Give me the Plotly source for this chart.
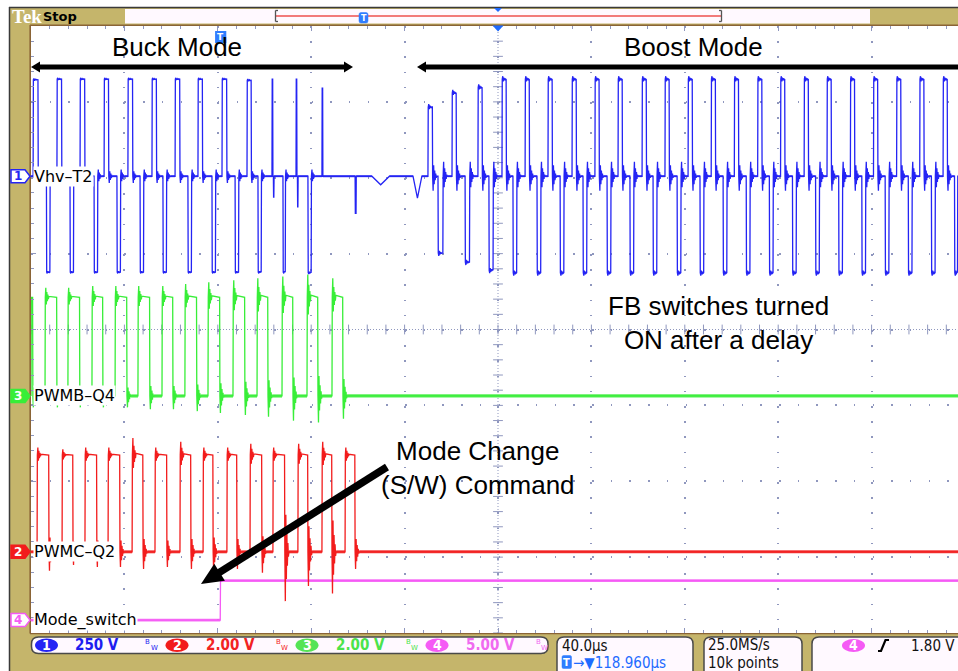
import plotly.graph_objects as go

# ===================== DATA =====================
# horizontal axis: time in µs, 0 = screen centre, 40 µs/div
T_MIN, T_MAX = -200.0, 197.0

# ---- Ch1  "Vhv-T2"  (250 V/div) : pulse start (µs), width (µs), level (V)
CH1_BUCK_POS_T = [-199.1, -188.9, -179.0, -168.7, -158.5, -148.2, -138.3, -128.5, -118.2, -107.5]
CH1_BUCK_POS_W = [2.2, 2.1, 2.1, 2.0, 2.1, 2.0, 2.1, 2.0, 2.1, 1.9]
CH1_BUCK_POS_V = [318, 320, 320, 320, 320, 320, 320, 320, 320, 316]
CH1_BUCK_NEG_T = [-193.4, -183.3, -173.0, -163.2, -153.3, -143.5, -132.8, -122.5, -112.6, -102.8, -92.1, -81.4]
CH1_BUCK_NEG_W = [1.6, 1.6, 1.6, 1.6, 1.6, 1.6, 1.6, 1.6, 1.6, 1.5, 1.1, 1.5]
CH1_BUCK_NEG_V = [-316, -316, -316, -316, -316, -316, -316, -316, -316, -316, -316, -318]
CH1_SPIKE_T = [-96.8, -96.2, -86.5, -85.9, -75.4, -61.2]
CH1_SPIKE_W = [0.4, 0.3, 0.4, 0.3, 0.4, 0.5]
CH1_SPIKE_V = [320, -69, 320, -101, 290, -122]
CH1_SAG_T = [-54.0, -36.4]
CH1_SAG_W = [7.5, 3.8]
CH1_SAG_V = [-28, -72]
CH1_BOOST_POS_T = [-30.0, -19.7, -8.6, 1.7, 11.6, 21.4, 31.7, 41.5, 51.4, 61.7, 71.5, 81.4,
                   91.3, 101.2, 111.2, 121.0, 131.1, 140.9, 150.9, 160.8, 170.7, 180.6, 190.6]
CH1_BOOST_POS_W = [2.0, 1.9, 1.9, 1.9, 1.9, 1.9, 1.9, 1.9, 1.9, 1.9, 1.9, 1.9,
                   1.9, 1.9, 1.9, 1.9, 1.9, 1.9, 1.9, 1.9, 1.9, 1.9, 1.9]
CH1_BOOST_POS_V = [228, 275, 293, 320, 320, 320, 320, 320, 320, 320, 320, 320,
                   320, 320, 320, 320, 320, 320, 320, 320, 320, 320, 320]
CH1_BOOST_NEG_T = [-25.7, -14.1, -3.9, 6.4, 16.7, 26.6, 36.4, 46.7, 56.5, 66.4, 76.7, 86.5,
                   96.4, 106.3, 116.2, 126.1, 136.0, 145.9, 155.8, 165.8, 175.7, 185.6, 195.5]
CH1_BOOST_NEG_W = [2.2, 2.0, 1.9, 1.7, 1.7, 1.7, 1.7, 1.7, 1.7, 1.7, 1.7, 1.7,
                   1.7, 1.7, 1.7, 1.7, 1.7, 1.7, 1.7, 1.7, 1.7, 1.7, 1.4]
CH1_BOOST_NEG_V = [-253, -283, -310, -318, -318, -318, -318, -318, -318, -318, -318, -318,
                   -318, -318, -318, -318, -318, -318, -318, -318, -318, -318, -318]
CH1_RING_BUCK, CH1_RING_BOOST = 22.0, 48.0          # V

# ---- Ch3  "PWMB-Q4"  (2 V/div)
CH3_T = [-200.0, -194.0, -184.2, -173.9, -164.0, -154.2, -143.9, -134.1, -124.2, -113.5, -103.2, -92.5, -81.8, -71.1]
CH3_W = [0.8, 5.1, 5.1, 4.7, 5.1, 5.1, 4.7, 5.1, 5.1, 5.1, 4.7, 4.7, 4.7, 4.7]
CH3_V = [2.6, 2.6, 2.6, 2.6, 2.6, 2.6, 2.6, 2.6, 2.6, 2.6, 2.6, 2.6, 2.6, 2.6]
CH3_RING_ON = [0.0, 0.25, 0.25, 0.3, 0.3, 0.3, 0.3, 0.35, 0.4, 0.45, 0.5, 0.55, 0.6, 0.5]
CH3_RING_OFF = [-0.3, -0.3, -0.3, -0.3, -0.3, -0.35, -0.35, -0.4, -0.45, -0.5, -0.55, -0.65, -0.7, -0.6]

# ---- Ch2  "PWMC-Q2"  (2 V/div)
CH2_T = [-197.4, -186.7, -176.9, -167.0, -156.7, -146.9, -136.2, -126.3, -116.1, -106.2, -96.4, -85.7, -75.4, -65.5]
CH2_W = [5.1, 4.7, 5.1, 5.1, 4.7, 5.1, 4.7, 4.3, 4.3, 5.1, 5.1, 4.3, 4.3, 4.3]
CH2_V = [2.55, 2.55, 2.55, 2.55, 2.55, 2.55, 2.55, 2.55, 2.55, 2.55, 2.55, 2.55, 2.55, 2.55]
CH2_RISE_SPIKE = [0.2, 0.15, 0.2, 0.2, 0.45, 0.2, 0.35, 0.2, 0.2, 0.3, 0.2, 0.3, 0.35, 0.2]
CH2_FALL_SPIKE = [-0.5, -0.35, -0.4, -0.4, -0.45, -0.4, -0.45, -0.5, -0.45, -0.55, -1.3, -0.9, -1.1, -0.45]

# ---- Ch4  "Mode_switch"  (5 V/div)
CH4_STEP_T = -118.96
CH4_LOW_V, CH4_HIGH_V = 0.0, 2.6

# scope settings
CH_SCALE = {1: 250.0, 2: 2.0, 3: 2.0, 4: 5.0}      # V/div
CH_NAMES = {1: "Vhv\u2013T2", 2: "PWMC\u2013Q2", 3: "PWMB\u2013Q4", 4: "Mode_switch"}
RING_SHAPE = [1.0, -0.75, 0.55, -0.4, 0.28, -0.18, 0.1]
RING_DT = 0.22
EDGE = 0.12

# ===================== LAYOUT GEOMETRY / STYLE =====================
W, H = 958, 671
ML, MT, MR, MB = 31, 26, 0, 38
PW, PH = W - ML - MR, H - MT - MB
CH_POS = {1: 2.02, 2: -2.93, 3: -0.876, 4: -3.83}  # ground positions (div)
COL = {1: "#2424F4", 2: "#F21C1C", 3: "#38EE38", 4: "#F55AF5"}
TXT_COL = {1: "#1E1EF0", 2: "#F22222", 3: "#4BE34B", 4: "#F06AF0"}
TAN = "#C5B56B"
GRID = "#8F97BE"
FONT_UI = "DejaVu Sans"
FONT_UIC = "DejaVu Sans Condensed"
FONT_ANN = "Liberation Sans"


def PX(x):
    return (x - ML) / PW


def PY(y):
    return (H - MB - y) / PH


def wave(pulses, t_lo, t_hi):
    xs, ys = [t_lo], [0.0]
    for t0, w, v, e, a_on, a_off in sorted(pulses):
        xs += [t0, t0 + e]
        ys += [0.0, v]
        if a_on:
            for k, r in enumerate(RING_SHAPE):
                tk = t0 + e + (k + 1) * RING_DT
                if tk >= t0 + w - e - RING_DT:
                    break
                xs.append(tk)
                ys.append(v + a_on * r)
        if w - e > e:
            xs.append(t0 + w - e)
            ys.append(v)
        xs.append(t0 + w)
        ys.append(0.0)
        if a_off:
            n = len(RING_SHAPE)
            for k, r in enumerate(RING_SHAPE):
                xs.append(t0 + w + (k + 1) * RING_DT)
                ys.append(a_off * r)
            xs.append(t0 + w + (n + 1) * RING_DT)
            ys.append(0.0)
    pts = [(x, y) for x, y in zip(xs, ys) if x <= t_hi]
    pts.append((t_hi, 0.0))
    return [p[0] for p in pts], [p[1] for p in pts]


def to_div(ch, volts):
    return [CH_POS[ch] + v / CH_SCALE[ch] for v in volts]


def flats(xs, ys, min_len=0.8):
    fx, fy = [], []
    for i in range(len(xs) - 1):
        if ys[i] == ys[i + 1] and xs[i + 1] - xs[i] > min_len:
            fx += [xs[i], xs[i + 1], None]
            fy += [ys[i], ys[i + 1], None]
    return fx, fy


# ---- build channel pulses from the data lists
p1 = []
for t, w, v in zip(CH1_BUCK_POS_T, CH1_BUCK_POS_W, CH1_BUCK_POS_V):
    p1.append((t, w, v, EDGE, 0.2 * CH1_RING_BUCK, -CH1_RING_BUCK))
for t, w, v in zip(CH1_BUCK_NEG_T, CH1_BUCK_NEG_W, CH1_BUCK_NEG_V):
    p1.append((t, w, v, EDGE, -0.2 * CH1_RING_BUCK, CH1_RING_BUCK))
for t, w, v in zip(CH1_SPIKE_T, CH1_SPIKE_W, CH1_SPIKE_V):
    p1.append((t, w, v, 0.1, 0, 0))
for t, w, v in zip(CH1_SAG_T, CH1_SAG_W, CH1_SAG_V):
    p1.append((t, w, v, w / 2.0, 0, 0))
for t, w, v in zip(CH1_BOOST_POS_T, CH1_BOOST_POS_W, CH1_BOOST_POS_V):
    p1.append((t, w, v, EDGE, 0.2 * CH1_RING_BOOST, -CH1_RING_BOOST))
for t, w, v in zip(CH1_BOOST_NEG_T, CH1_BOOST_NEG_W, CH1_BOOST_NEG_V):
    p1.append((t, w, v, EDGE, -0.2 * CH1_RING_BOOST, CH1_RING_BOOST))
x1, v1 = wave(p1, T_MIN, T_MAX)

p3 = [(t, w, v, EDGE, a, b) for t, w, v, a, b in zip(CH3_T, CH3_W, CH3_V, CH3_RING_ON, CH3_RING_OFF)]
x3, v3 = wave(p3, T_MIN, T_MAX)

p2 = [(t, w, v, EDGE, a, b) for t, w, v, a, b in zip(CH2_T, CH2_W, CH2_V, CH2_RISE_SPIKE, CH2_FALL_SPIKE)]
x2, v2 = wave(p2, T_MIN, T_MAX)

x4 = [T_MIN, CH4_STEP_T, CH4_STEP_T + EDGE, T_MAX]
v4 = [CH4_LOW_V, CH4_LOW_V, CH4_HIGH_V, CH4_HIGH_V]

fig = go.Figure()

# graticule ticks on the centre lines
cx = [T_MIN + 8 * k for k in range(60) if T_MIN + 8 * k <= T_MAX]
cy = [-4 + 0.2 * k for k in range(41)]
fig.add_trace(go.Scatter(x=cx, y=[0] * len(cx), mode="markers", hoverinfo="skip",
                         marker=dict(symbol="line-ns", size=7, line=dict(width=1, color=GRID))))
fig.add_trace(go.Scatter(x=[0] * len(cy), y=cy, mode="markers", hoverinfo="skip",
                         marker=dict(symbol="line-ew", size=7, line=dict(width=1, color=GRID))))

for ch, xs, vs, fuzz in [(4, x4, v4, 2.6), (3, x3, v3, 3.2), (2, x2, v2, 3.0), (1, x1, v1, 1.9)]:
    yd = to_div(ch, vs)
    fig.add_trace(go.Scatter(x=xs, y=yd, mode="lines", hoverinfo="skip",
                             line=dict(color=COL[ch], width=1.3, simplify=False)))
    if fuzz:
        fx, fy = flats(xs, yd)
        fig.add_trace(go.Scatter(x=fx, y=fy, mode="lines", hoverinfo="skip", opacity=0.85,
                                 line=dict(color=COL[ch], width=fuzz, simplify=False)))

shapes = []
annotations = []


def rect_px(x0, y0, x1, y1, fill, lc=None, lw=0):
    shapes.append(dict(type="rect", xref="paper", yref="paper", x0=PX(x0), x1=PX(x1),
                       y0=PY(y0), y1=PY(y1), fillcolor=fill,
                       line=dict(width=lw, color=lc or fill), layer="above"))


def line_px(x0, y0, x1, y1, color, width, dash="solid"):
    shapes.append(dict(type="line", xref="paper", yref="paper", x0=PX(x0), x1=PX(x1),
                       y0=PY(y0), y1=PY(y1), line=dict(color=color, width=width, dash=dash),
                       layer="above"))


def poly_px(pts, fill, lc=None, lw=0):
    p = "M " + " L ".join("%.5f,%.5f" % (PX(x), PY(y)) for x, y in pts) + " Z"
    shapes.append(dict(type="path", xref="paper", yref="paper", path=p, fillcolor=fill,
                       line=dict(color=lc or fill, width=lw), layer="above"))


def rrect_px(x0, y0, x1, y1, r, fill, lc, lw):
    def P(x, y):
        return "%.5f,%.5f" % (PX(x), PY(y))
    p = ("M " + P(x0 + r, y0) + " L " + P(x1 - r, y0) + " Q " + P(x1, y0) + " " + P(x1, y0 + r) +
         " L " + P(x1, y1 - r) + " Q " + P(x1, y1) + " " + P(x1 - r, y1) +
         " L " + P(x0 + r, y1) + " Q " + P(x0, y1) + " " + P(x0, y1 - r) +
         " L " + P(x0, y0 + r) + " Q " + P(x0, y0) + " " + P(x0 + r, y0) + " Z")
    shapes.append(dict(type="path", xref="paper", yref="paper", path=p, fillcolor=fill,
                       line=dict(color=lc, width=lw), layer="above"))


def oval_px(x0, y0, x1, y1, fill):
    shapes.append(dict(type="circle", xref="paper", yref="paper", x0=PX(x0), x1=PX(x1),
                       y0=PY(y0), y1=PY(y1), fillcolor=fill, line=dict(width=0), layer="above"))


def txt(px, py, s, size, color, anchor="left", family=FONT_UI, bg=None, align="left"):
    d = dict(xref="paper", yref="paper", x=PX(px), y=PY(py), text=s, showarrow=False,
             xanchor=anchor, yanchor="middle", align=align,
             font=dict(size=size, color=color, family=family), borderpad=0)
    if bg:
        d["bgcolor"] = bg
    annotations.append(d)


# ---- outer frame
rect_px(0, 0, 9, H, "white")
rect_px(0, 0, W, 7, "white")
line_px(9.5, 7, 9.5, H, "#3A3A3A", 1.5)
line_px(9, 7.5, W, 7.5, "#3A3A3A", 1.5)
line_px(30, 25.2, W, 25.2, "#8A6436", 1.6)
line_px(30.2, 25, 30.2, 633.5, "#8A6436", 1.6)
line_px(30, 633.6, W, 633.6, "#8A6436", 1.2)

# centre dotted lines
shapes.append(dict(type="line", xref="x", yref="paper", x0=0, x1=0, y0=0, y1=1,
                   line=dict(color=GRID, width=1, dash="1px,2px"), layer="below"))
shapes.append(dict(type="line", xref="paper", yref="y", x0=0, x1=1, y0=0, y1=0,
                   line=dict(color=GRID, width=1, dash="1px,2px"), layer="below"))

# ---- top bar
txt(11, 16.5, "<b>Tek</b>", 19, "white", family="Liberation Serif")
txt(42, 16.5, "<b>Stop</b>", 13, "black")
rect_px(125, 9, 870, 23.5, "#FFF9FF")
line_px(275, 16, 722, 16, "#F27B7B", 2)
for bx, d in [(275.5, 1), (721.5, -1)]:
    line_px(bx, 10.5, bx, 21.5, "#555555", 1.3)
    line_px(bx, 10.5, bx + 2.5 * d, 10.5, "#555555", 1.3)
    line_px(bx, 21.5, bx + 2.5 * d, 21.5, "#555555", 1.3)
rrect_px(359, 12.5, 368, 23, 2, "#2F7DFF", "#2F7DFF", 0.5)
txt(363.5, 18, "<b>T</b>", 8, "white", anchor="center")
poly_px([(494, 8), (502, 8), (498, 12)], "#1F6BFF")
poly_px([(492.5, 25.5), (503.5, 25.5), (498, 31.5)], "#1F6BFF")

# trigger T marker in the graticule at the trigger time
shapes.append(dict(type="rect", xref="x", yref="paper", x0=CH4_STEP_T - 2.2, x1=CH4_STEP_T + 2.6,
                   y0=PY(43), y1=PY(31), fillcolor="#2F7DFF", line=dict(width=0), layer="above"))
annotations.append(dict(xref="x", yref="paper", x=CH4_STEP_T + 0.2, y=PY(37), text="<b>T</b>",
                        showarrow=False, xanchor="center", yanchor="middle",
                        font=dict(size=9, color="white", family=FONT_UI)))

# ---- channel markers + labels (at each ground level)
for ch, filled in [(1, False), (3, True), (2, True), (4, False)]:
    yc = 329.5 - CH_POS[ch] * (PH / 8.0)
    pts = [(11, yc - 6.5), (25, yc - 6.5), (30, yc), (25, yc + 6.5), (11, yc + 6.5)]
    poly_px(pts, COL[ch] if filled else "white", COL[ch], 1.5)
    txt(18, yc, "<b>%d</b>" % ch, 12, "white" if filled else COL[ch], anchor="center")
    txt(33, yc, CH_NAMES[ch], 16, "black", bg="white")

# ---- explanatory annotations
txt(176.5, 47, "Buck Mode", 26, "black", anchor="center", family=FONT_ANN)
txt(693.5, 47, "Boost Mode", 26, "black", anchor="center", family=FONT_ANN)
txt(718, 323, "FB switches turned<br>ON after a delay", 26, "black", anchor="center",
    family=FONT_ANN, align="center")
txt(478, 468, "Mode Change<br>(S/W) Command", 26, "black", anchor="center",
    family=FONT_ANN, align="center")

# double arrows
line_px(38, 67, 346, 67, "black", 5)
poly_px([(31, 67), (40, 61.5), (40, 72.5)], "black")
poly_px([(353, 67), (344, 61.5), (344, 72.5)], "black")
line_px(425, 67, W, 67, "black", 5)
poly_px([(417, 67), (426, 61.5), (426, 72.5)], "black")

# diagonal arrow
tx, ty, sx, sy = 201.0, 584.0, 387.0, 467.0
dx, dy = tx - sx, ty - sy
L = (dx * dx + dy * dy) ** 0.5
ux, uy = dx / L, dy / L
hl, hw = 22.0, 10.0
bx, by = tx - hl * ux, ty - hl * uy
line_px(sx, sy, bx + 3 * ux, by + 3 * uy, "black", 7.5)
poly_px([(tx, ty), (bx - hw * uy, by + hw * ux), (bx + hw * uy, by - hw * ux)], "black")

# ---- status bar
rrect_px(31.5, 637, 548, 653.5, 7, "#FFF9FF", "#4A4A4A", 1.5)
vals = {1: "250 V", 2: "2.00 V", 3: "2.00 V", 4: "5.00 V"}
for ch, ox in [(1, 35), (2, 165.5), (3, 295.5), (4, 425.5)]:
    oval_px(ox, 638.5, ox + 23, 652, COL[ch] if ch != 3 else "#55E455")
    txt(ox + 11.5, 645.3, "<b>%d</b>" % ch, 14, "white", anchor="center", family=FONT_UIC)
    txt(ox + 39, 645.3, "<b>%s</b>" % vals[ch], 15, TXT_COL[ch], family=FONT_UIC)
    txt(ox + 109, 641.5, "B", 7, TXT_COL[ch])
    txt(ox + 114.5, 648.5, "W", 7, TXT_COL[ch])

rrect_px(557, 637, 693, 690, 7, "#FFF9FF", "#4A4A4A", 1.5)
txt(561, 645.5, "40.0\u00b5s", 15, "#111111", family=FONT_UIC)
rrect_px(562, 655.5, 571.5, 668.5, 1.5, "#2F7DFF", "#2F7DFF", 0.5)
txt(566.8, 662, "<b>T</b>", 10, "white", anchor="center")
txt(572, 662.5, "\u2192\u25bc118.960\u00b5s", 15, "#1E6BFF", family=FONT_UIC)

rrect_px(704, 637, 802, 690, 7, "#FFF9FF", "#4A4A4A", 1.5)
txt(707, 645, "25.0MS/s", 15, "#111111", family=FONT_UIC)
txt(707, 662.5, "10k points", 15, "#111111", family=FONT_UIC)

rrect_px(812, 637, 985, 690, 7, "#FFF9FF", "#4A4A4A", 1.5)
oval_px(842, 639, 865, 652, COL[4])
txt(853.5, 645.3, "<b>4</b>", 14, "white", anchor="center", family=FONT_UIC)
shapes.append(dict(type="path", xref="paper", yref="paper",
                   path="M %.5f,%.5f L %.5f,%.5f L %.5f,%.5f L %.5f,%.5f" % (
                       PX(878), PY(651), PX(881), PY(651), PX(885.5), PY(640), PX(889), PY(640)),
                   line=dict(color="black", width=2.2), layer="above"))
txt(910, 645.5, "1.80 V", 15, "#111111", family=FONT_UIC)

fig.update_layout(
    width=W, height=H,
    margin=dict(l=ML, r=MR, t=MT, b=MB, pad=0),
    paper_bgcolor=TAN, plot_bgcolor="white",
    showlegend=False,
    shapes=shapes, annotations=annotations,
    xaxis=dict(range=[T_MIN, T_MAX], showticklabels=False, zeroline=False,
               showgrid=True, gridcolor=GRID, griddash="1.5px,13.7px", gridwidth=1.5,
               tick0=-200, dtick=40, ticks="inside", ticklen=5, tickcolor=GRID, mirror="ticks",
               minor=dict(dtick=8, ticks="inside", ticklen=3, tickcolor=GRID, showgrid=False),
               fixedrange=True),
    yaxis=dict(range=[-4, 4], showticklabels=False, zeroline=False,
               showgrid=True, gridcolor=GRID, griddash="1.5px,17.2px", gridwidth=1.5,
               tick0=-4, dtick=1, ticks="inside", ticklen=5, tickcolor=GRID,
               minor=dict(dtick=0.2, ticks="inside", ticklen=3, tickcolor=GRID, showgrid=False),
               fixedrange=True),
)

fig.write_html("out.html")
